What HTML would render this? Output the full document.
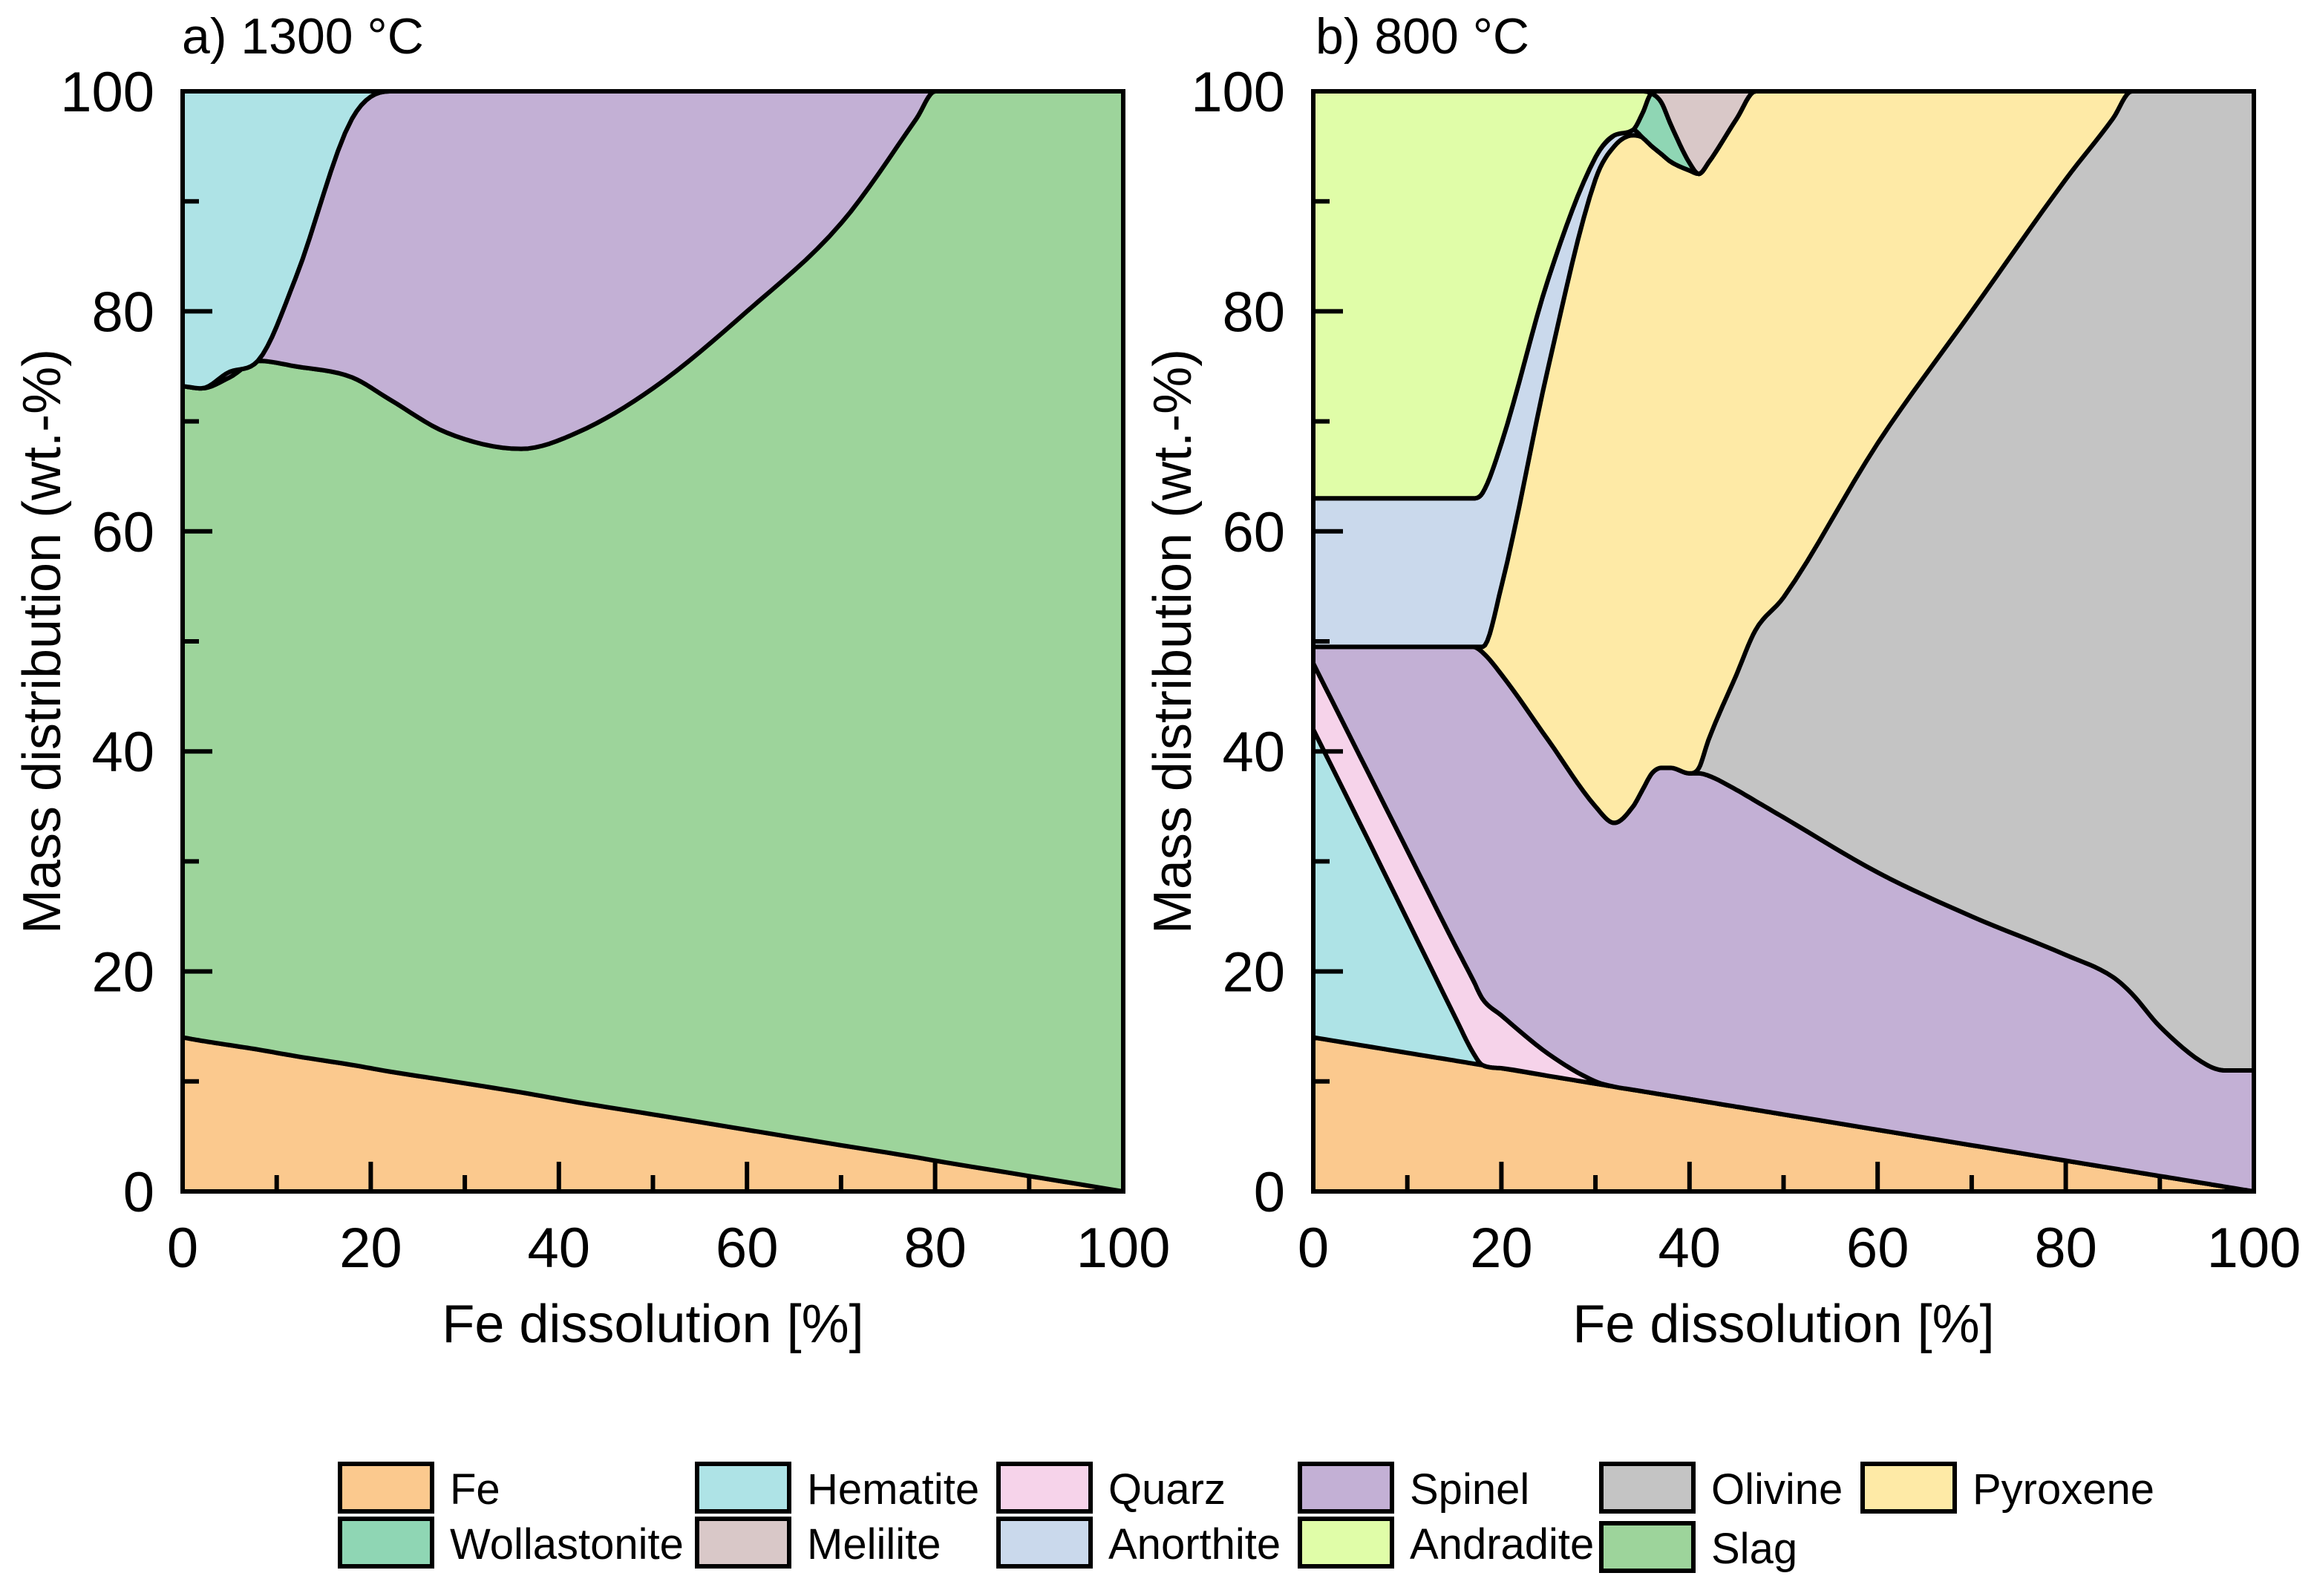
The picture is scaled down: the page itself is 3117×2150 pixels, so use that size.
<!DOCTYPE html>
<html><head><meta charset="utf-8"><style>
html,body{margin:0;padding:0;background:#fff;}
svg{display:block;font-family:"Liberation Sans",Arial,sans-serif;}
</style></head><body>
<svg id="fig" width="3117" height="2150" viewBox="0 0 3117 2150" xmlns="http://www.w3.org/2000/svg"></svg>
<script>
// ---- Panel a data (cumulative upper boundaries, wt.-%) ----
const xA = [0,2,5,8,12,18,22,28,36,42,50,60,70,78,80,90,100];
const aFe      = [14,13.7,13.3,12.9,12.3,11.5,10.9,10.1,9,8.1,7,5.6,4.2,3.1,2.8,1.4,0];
const aSlag    = [73.2,73,74,75.5,75,74,72,69,67.5,69,73,80,88,97.5,100,100,100];
const aSpinel  = [73.2,73,74.5,75.5,83,97.5,100,100,100,100,100,100,100,100,100,100,100];
const aHematite= [100,100,100,100,100,100,100,100,100,100,100,100,100,100,100,100,100];
// ---- Panel b data ----
const xB = [0,5,10,15,17,18,20,25,30,32,34,35,36,37,38,40,41,42,45,47,50,60,70,80,85,87,90,95,97,100];
const bFe      = [14,13.3,12.6,11.9,11.62,11.48,11.2,10.5,9.8,9.52,9.24,9.1,8.96,8.82,8.68,8.4,8.26,8.12,7.7,7.42,7,5.6,4.2,2.8,2.1,1.82,1.4,0.7,0.42,0];
const bHematite= [42,33.4,24.7,16,12.6,11.48,11.2,10.5,9.8,9.52,9.24,9.1,8.96,8.82,8.68,8.4,8.26,8.12,7.7,7.42,7,5.6,4.2,2.8,2.1,1.82,1.4,0.7,0.42,0];
const bQuarz   = [48,39.5,31,22.5,19.2,17.5,16,12.5,10,9.52,9.24,9.1,8.96,8.82,8.68,8.4,8.26,8.12,7.7,7.42,7,5.6,4.2,2.8,2.1,1.82,1.4,0.7,0.42,0];
const bSpinel  = [49.5,49.5,49.5,49.5,49.5,49,47,41,35,33.5,35,36.5,38,38.5,38.5,38,38,37.8,36.5,35.5,34,29,25,21.5,19.5,18,15,11.5,11,11];
const bOlivine = [49.5,49.5,49.5,49.5,49.5,49,47,41,35,33.5,35,36.5,38,38.5,38.5,38,38.5,41,47,51,54,68,80,92,97.5,100,100,100,100,100];
const bPyroxene= [49.5,49.5,49.5,49.5,49.5,49.5,55,75,92,95,96,95.8,95,94.3,93.6,92.8,92.5,93.5,97.5,100,100,100,100,100,100,100,100,100,100,100];
const bAnorthite=[63,63,63,63,63,63.5,68,83,94,96,96.5,95.8,95,94.3,93.6,92.8,92.5,93.5,97.5,100,100,100,100,100,100,100,100,100,100,100];
const bWollastonite=[63,63,63,63,63,63.5,68,83,94,96,96.5,98,99.8,99,97,93.5,92.5,93.5,97.5,100,100,100,100,100,100,100,100,100,100,100];
const bAndradite=[100,100,100,100,100,100,100,100,100,100,100,100,99.8,99,97,93.5,92.5,93.5,97.5,100,100,100,100,100,100,100,100,100,100,100];
const bMelilite= [100,100,100,100,100,100,100,100,100,100,100,100,100,100,100,100,100,100,100,100,100,100,100,100,100,100,100,100,100,100];
const tickLabels = ['0','20','40','60','80','100'];
const legendNames = ['Fe','Hematite','Quarz','Spinel','Olivine','Pyroxene','Wollastonite','Melilite','Anorthite','Andradite','Slag'];

const COL = {Fe:'#fbc98e',Hematite:'#aee3e6',Quarz:'#f6d3ea',Spinel:'#c3b0d5',Olivine:'#c4c4c4',Pyroxene:'#feeaa6',
  Wollastonite:'#8fd6b4',Melilite:'#d9c8c8',Anorthite:'#cad9ec',Andradite:'#e0fda8',Slag:'#9dd49b'};
const NS='http://www.w3.org/2000/svg';
const svg=document.getElementById('fig');
function mk(tag,attrs,parent){const e=document.createElementNS(NS,tag);for(const k in attrs)e.setAttribute(k,attrs[k]);(parent||svg).appendChild(e);return e;}

// monotone cubic (Fritsch-Carlson) sampling
function smooth(xs,ys){
  const n=xs.length,d=[],m=new Array(n);
  for(let i=0;i<n-1;i++) d.push((ys[i+1]-ys[i])/(xs[i+1]-xs[i]));
  m[0]=d[0];m[n-1]=d[n-2];
  for(let i=1;i<n-1;i++){ m[i]=(d[i-1]*d[i]<=0)?0:(d[i-1]+d[i])/2; }
  for(let i=0;i<n-1;i++){
    if(d[i]===0){m[i]=0;m[i+1]=0;continue;}
    const a=m[i]/d[i],b=m[i+1]/d[i],s=a*a+b*b;
    if(s>9){const t=3/Math.sqrt(s);m[i]=t*a*d[i];m[i+1]=t*b*d[i];}
  }
  const out=[];
  for(let i=0;i<n-1;i++){
    const h=xs[i+1]-xs[i],N=8;
    for(let k=0;k<N;k++){
      const t=k/N,t2=t*t,t3=t2*t;
      const y=(2*t3-3*t2+1)*ys[i]+(t3-2*t2+t)*h*m[i]+(-2*t3+3*t2)*ys[i+1]+(t3-t2)*h*m[i+1];
      out.push([xs[i]+t*h,y]);
    }
  }
  out.push([xs[n-1],ys[n-1]]);
  return out;
}

function panel(id,x0,x1,xs,layers,title,titleX){
  const y0=1605,y1=123;
  const sx=v=>x0+(x1-x0)*v/100, sy=v=>y0-(y0-y1)*v/100;
  const g=mk('g',{});
  
  
  let prev=smooth(xs,xs.map(()=>0));
  layers.forEach(([name,top])=>{
    const pts=smooth(xs,top);
    let d='M'+pts.map(p=>sx(p[0]).toFixed(1)+','+sy(p[1]).toFixed(1)).join(' L');
    for(let i=prev.length-1;i>=0;i--) d+=' L'+sx(prev[i][0]).toFixed(1)+','+sy(prev[i][1]).toFixed(1);
    d+=' Z';
    const p=mk('path',{d:d,fill:COL[name],stroke:'#000','stroke-width':6,'stroke-linejoin':'round'},g);
    
    
    prev=pts;
  });
  const fr=mk('rect',{x:x0,y:y1,width:x1-x0,height:y0-y1,fill:'none',stroke:'#000','stroke-width':6},g);
  
  
  for(let v=0;v<=100;v+=10){
    const L=(v%20===0)?40:22;
    const tx=mk('line',{x1:sx(v),x2:sx(v),y1:y0,y2:y0-L,stroke:'#000','stroke-width':6},g);
    
    
    const ty=mk('line',{x1:x0,x2:x0+L,y1:sy(v),y2:sy(v),stroke:'#000','stroke-width':6},g);
    
    
  }
  tickLabels.forEach((t,i)=>{
    const v=i*20;
    const a=mk('text',{x:sx(v),y:1707,'font-size':76,'text-anchor':'middle'},g);a.textContent=t;
    
    
    const b=mk('text',{x:x0-38,y:sy(v)+27,'font-size':76,'text-anchor':'end'},g);b.textContent=t;
    
    
  });
  const xt=mk('text',{x:(x0+x1)/2,y:1808,'font-size':72,'text-anchor':'middle'},g);xt.textContent='Fe dissolution [%]';
  
  
  const yc=(y0+y1)/2, yx=x0-165;
  const yt=mk('text',{x:yx,y:yc,'font-size':72,'text-anchor':'middle',transform:'rotate(-90 '+yx+' '+yc+')'},g);yt.textContent='Mass distribution (wt.-%)';
  
  
  const tt=mk('text',{x:titleX,y:72,'font-size':68},g);tt.textContent=title;
  
  
}
panel('panel-a',246,1513,xA,[['Fe',aFe],['Slag',aSlag],['Spinel',aSpinel],['Hematite',aHematite]],'a) 1300 °C',245);
panel('panel-b',1769,3036,xB,[['Fe',bFe],['Hematite',bHematite],['Quarz',bQuarz],['Spinel',bSpinel],['Olivine',bOlivine],['Pyroxene',bPyroxene],['Anorthite',bAnorthite],['Wollastonite',bWollastonite],['Andradite',bAndradite],['Melilite',bMelilite]],'b) 800 °C',1772);

// legend
const colX=[458,939,1345,1751,2157,2509];
const lg=mk('g',{});


legendNames.forEach((n,i)=>{
  const r=i<6?0:1, c=i<6?i:i-6;
  const x=colX[c], y=r===0?1972:(n==='Slag'?2052:2046);
  const e=mk('g',{},lg);
  
  
  mk('rect',{x:x,y:y,width:124,height:64,fill:COL[n],stroke:'#000','stroke-width':6},e);
  const t=mk('text',{x:x+148,y:y+54,'font-size':58},e);t.textContent=n;
});
</script>
</body></html>
